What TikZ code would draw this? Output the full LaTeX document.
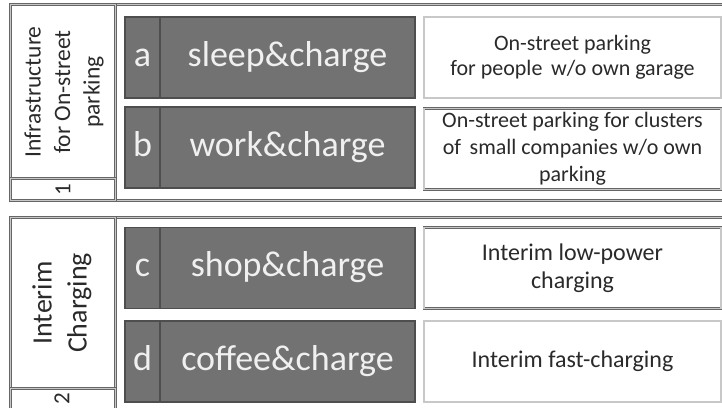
\documentclass[tikz,border=0pt]{standalone}
\usepackage{fontspec}
\setmainfont{Carlito}
\definecolor{framegray}{HTML}{666666}
\definecolor{frameinner}{HTML}{C8C8C8}
\definecolor{boxfill}{HTML}{727272}
\definecolor{boxline}{HTML}{4E4E4E}
\definecolor{inkgray}{HTML}{2A2A2A}
\begin{document}
\begin{tikzpicture}[x=1pt,y=-1pt,
  frame/.style={draw=framegray, line width=0.9pt, double=frameinner, double distance=1.1pt, inner sep=0pt},
  groupbox/.style={frame, anchor=north west, minimum width=740pt},
  headcell/.style={frame, anchor=north west, minimum width=105pt, text=inkgray},
  darkcell/.style={draw=boxline, line width=1.4pt, fill=boxfill, text=white!94!black,
      minimum height=81pt, inner sep=0pt, text height=25pt, text depth=8pt,
      font=\fontsize{36}{40}\selectfont},
  lettercell/.style={darkcell, minimum width=35pt},
  namecell/.style={darkcell, minimum width=255pt},
  notecell/.style={frame, fill=white, text=inkgray, align=center,
      minimum width=297pt, minimum height=81pt},
  vlabel/.style={rotate=90, align=center, text=inkgray}
]
\useasboundingbox (0,0) rectangle (722,407);
\clip (0,0) rectangle (722,407);

% ---- group 1: infrastructure for on-street parking ----
\node[groupbox, minimum height=196pt] (g1) at (10,4) {};
\node[headcell, minimum height=174pt] (h1) at (10,4) {};
\node[headcell, minimum height=22pt] (k1) at (10,178) {};
\node[vlabel, font=\fontsize{23.5}{29.5}\selectfont] (t1) at (64,92)
  {Infrastructure\\for On-street\\parking};
\node[rotate=90, text=inkgray, font=\fontsize{23}{26}\selectfont] (n1) at (k1.center) {1};

\node[lettercell] (aL) at (142.5,57.5) {a};
\node[namecell]   (aN) at (287.5,57.5) {sleep\&charge};
\node[notecell, font=\fontsize{22}{25}\selectfont] (aT) at (572.5,57.5)
  {On-street parking\\for people\, w/o own garage};

\node[lettercell] (bL) at (142.5,147.5) {b};
\node[namecell]   (bN) at (287.5,147.5) {work\&charge};
\node[notecell, font=\fontsize{22}{27}\selectfont] (bT) at (572.5,149)
  {On-street parking for clusters\\of\, small companies w/o own\\parking};

% ---- group 2: interim charging ----
\node[groupbox, minimum height=210pt] (g2) at (10,217) {};
\node[headcell, minimum height=171pt] (h2) at (10,217) {};
\node[headcell, minimum height=40pt] (k2) at (10,388) {};
\node[vlabel, font=\fontsize{28}{35}\selectfont] (t2) at (62,303)
  {Interim\\Charging};
\node[rotate=90, text=inkgray, font=\fontsize{23}{26}\selectfont] (n2) at (62,399) {2};

\node[lettercell] (cL) at (142.5,268) {c};
\node[namecell]   (cN) at (287.5,268) {shop\&charge};
\node[notecell, font=\fontsize{24}{28}\selectfont] (cT) at (572.5,268)
  {Interim low-power\\charging};

\node[lettercell] (dL) at (142.5,361.5) {d};
\node[namecell]   (dN) at (287.5,361.5) {coffee\&charge};
\node[notecell, font=\fontsize{24}{28}\selectfont] (dT) at (572.5,361.5)
  {Interim fast-charging};
\end{tikzpicture}
\end{document}
